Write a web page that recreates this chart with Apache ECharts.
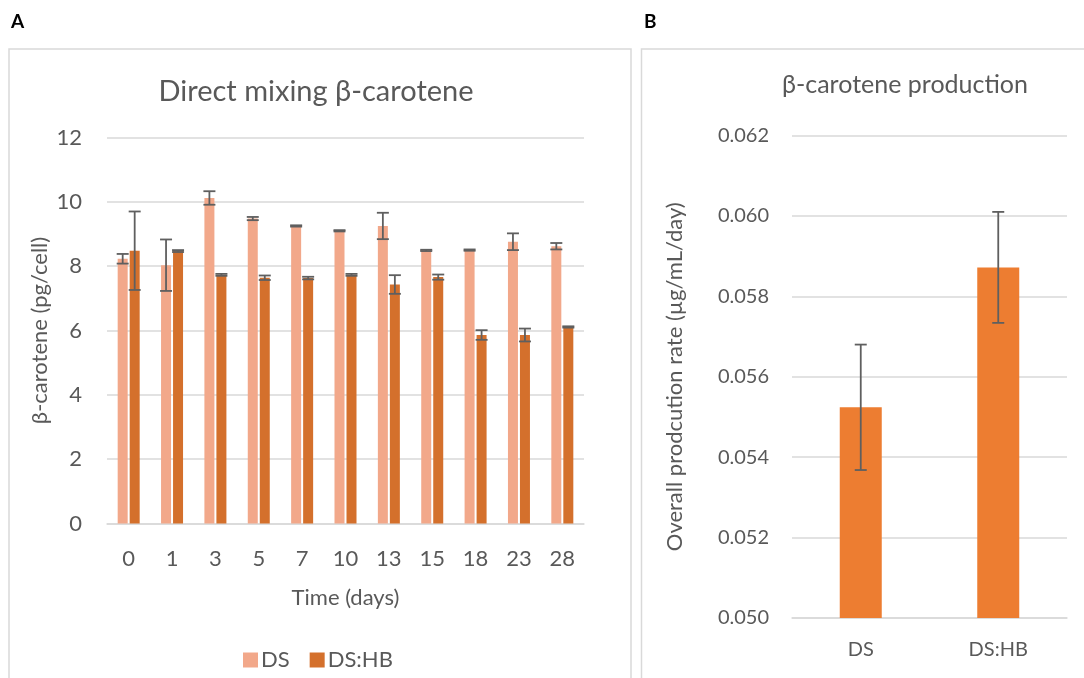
<!DOCTYPE html>
<html>
<head>
<meta charset="utf-8">
<script src="https://cdn.jsdelivr.net/npm/echarts@6/dist/echarts.min.js"></script>
<style>
  html, body { margin: 0; padding: 0; background: #ffffff; }
  #chart { width: 1084px; height: 678px; }
</style>
</head>
<body>
<div id="chart"></div>
<script>
// Panel A: β-carotene per cell over time (mean and error)
const days = ['0', '1', '3', '5', '7', '10', '13', '15', '18', '23', '28'];
const dsMean = [8.23, 8.03, 10.12, 9.48, 9.25, 9.10, 9.25, 8.49, 8.50, 8.76, 8.62];
const dsErr  = [0.15, 0.80, 0.21, 0.05, 0.02, 0.02, 0.41, 0.02, 0.02, 0.26, 0.10];
const hbMean = [8.48, 8.47, 7.73, 7.64, 7.63, 7.73, 7.43, 7.66, 5.86, 5.86, 6.11];
const hbErr  = [1.22, 0.03, 0.03, 0.07, 0.04, 0.03, 0.29, 0.08, 0.15, 0.20, 0.02];
const yTicksA = { min: 0, max: 12, interval: 2 };

// Panel B: overall production rate
const groupsB = ['DS', 'DS:HB'];
const rateMean = [0.05524, 0.05872];
const rateErr  = [0.00156, 0.00138];
const yTicksB = { min: 0.050, max: 0.062, interval: 0.002 };

const FONT = 'Lato';
const TXT = '#595959';
const GRID = '#d9d9d9';
const ERR = '#5f5f5f';
const C_DS = '#F2A88A';
const C_HB = '#D4702C';
const C_B = '#ED7D31';

const BAR_W_A = 10;
const BAR_GAP_A = 2;

// error bar drawn at a pixel offset from the category centre
function errorBar(offset, capHalf) {
  return function (params, api) {
    const idx = api.value(0);
    const m = api.value(1);
    const e = api.value(2);
    const top = api.coord([idx, m + e]);
    const bot = api.coord([idx, m - e]);
    const x = top[0] + offset;
    const st = { stroke: ERR, lineWidth: 1.8 };
    return {
      type: 'group',
      children: [
        { type: 'line', shape: { x1: x, y1: top[1], x2: x, y2: bot[1] }, style: st },
        { type: 'line', shape: { x1: x - capHalf, y1: top[1], x2: x + capHalf, y2: top[1] }, style: st },
        { type: 'line', shape: { x1: x - capHalf, y1: bot[1], x2: x + capHalf, y2: bot[1] }, style: st }
      ]
    };
  };
}

const chart = echarts.init(document.getElementById('chart'), null, { renderer: 'canvas' });

const option = {
  backgroundColor: '#ffffff',
  animation: false,
  textStyle: { fontFamily: FONT, color: TXT },
  graphic: [
    { type: 'rect', shape: { x: 9, y: 49, width: 622, height: 700 }, style: { fill: 'none', stroke: GRID, lineWidth: 1.5 }, silent: true },
    { type: 'rect', shape: { x: 641.5, y: 49, width: 500, height: 700 }, style: { fill: 'none', stroke: GRID, lineWidth: 1.5 }, silent: true },
    { type: 'text', left: 11, top: 12, style: { text: 'A', font: 'bold 19px ' + FONT, fill: '#000000' } },
    { type: 'text', left: 644, top: 12, style: { text: 'B', font: 'bold 19px ' + FONT, fill: '#000000' } }
  ],
  title: [
    { text: 'Direct mixing β-carotene', left: 311, top: 72, textAlign: 'center',
      textStyle: { fontFamily: FONT, fontSize: 29, fontWeight: 'normal', color: TXT } },
    { text: 'β-carotene production', left: 900, top: 67, textAlign: 'center',
      textStyle: { fontFamily: FONT, fontSize: 25, fontWeight: 'normal', color: TXT } }
  ],
  legend: {
    data: ['DS', 'DS:HB'],
    left: 238, top: 644,
    icon: 'rect', itemWidth: 15, itemHeight: 15, itemGap: 20,
    textStyle: { fontFamily: FONT, fontSize: 22, color: TXT, padding: [0, 0, 0, -2] }
  },
  grid: [
    { left: 107, right: 500, top: 137.5, bottom: 154.5 },
    { left: 792, right: 17, top: 135.5, bottom: 60 }
  ],
  xAxis: [
    { gridIndex: 0, type: 'category', data: days,
      name: 'Time (days)', nameLocation: 'middle', nameGap: 63,
      nameTextStyle: { fontFamily: FONT, fontSize: 22, color: TXT },
      axisLine: { lineStyle: { color: GRID, width: 1.5 } }, axisTick: { show: false },
      axisLabel: { fontFamily: FONT, fontSize: 22, color: TXT, margin: 24 } },
    { gridIndex: 1, type: 'category', data: groupsB,
      axisLine: { lineStyle: { color: GRID, width: 1.5 } }, axisTick: { show: false },
      axisLabel: { fontFamily: FONT, fontSize: 20, color: TXT, margin: 22 } }
  ],
  yAxis: [
    { gridIndex: 0, type: 'value', min: yTicksA.min, max: yTicksA.max, interval: yTicksA.interval,
      name: 'β-carotene (pg/cell)', nameLocation: 'middle', nameGap: 56,
      nameTextStyle: { fontFamily: FONT, fontSize: 22, color: TXT },
      axisLine: { show: false }, axisTick: { show: false },
      axisLabel: { fontFamily: FONT, fontSize: 22, color: TXT, margin: 25 },
      splitLine: { lineStyle: { color: GRID, width: 1.5 } } },
    { gridIndex: 1, type: 'value', min: yTicksB.min, max: yTicksB.max, interval: yTicksB.interval,
      name: 'Overall prodcution rate (µg/mL/day)', nameLocation: 'middle', nameGap: 106,
      nameTextStyle: { fontFamily: FONT, fontSize: 22, color: TXT },
      axisLine: { show: false }, axisTick: { show: false },
      axisLabel: { fontFamily: FONT, fontSize: 20, color: TXT, margin: 23,
        formatter: function (v) { return v.toFixed(3); } },
      splitLine: { lineStyle: { color: GRID, width: 1.5 } } }
  ],
  series: [
    { name: 'DS', type: 'bar', xAxisIndex: 0, yAxisIndex: 0, data: dsMean,
      barWidth: BAR_W_A, barGap: '20%', itemStyle: { color: C_DS } },
    { name: 'DS:HB', type: 'bar', xAxisIndex: 0, yAxisIndex: 0, data: hbMean,
      barWidth: BAR_W_A, barGap: '20%', itemStyle: { color: C_HB } },
    { name: 'DS error', type: 'custom', xAxisIndex: 0, yAxisIndex: 0, z: 5,
      renderItem: errorBar(-(BAR_W_A + BAR_GAP_A) / 2, 6),
      data: dsMean.map((v, i) => [i, v, dsErr[i]]) },
    { name: 'DS:HB error', type: 'custom', xAxisIndex: 0, yAxisIndex: 0, z: 5,
      renderItem: errorBar((BAR_W_A + BAR_GAP_A) / 2, 6),
      data: hbMean.map((v, i) => [i, v, hbErr[i]]) },
    { name: 'Rate', type: 'bar', xAxisIndex: 1, yAxisIndex: 1, data: rateMean,
      barWidth: 42, itemStyle: { color: C_B } },
    { name: 'Rate error', type: 'custom', xAxisIndex: 1, yAxisIndex: 1, z: 5,
      renderItem: errorBar(0, 6),
      data: rateMean.map((v, i) => [i, v, rateErr[i]]) }
  ]
};

chart.setOption(option);
</script>
</body>
</html>
